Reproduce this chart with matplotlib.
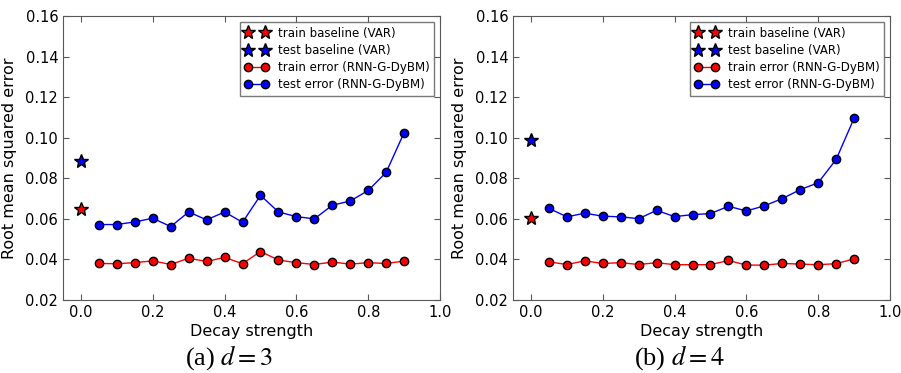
import matplotlib
matplotlib.use('Agg')
import matplotlib.pyplot as plt

decay = [0.05, 0.10, 0.15, 0.20, 0.25, 0.30, 0.35, 0.40, 0.45,
         0.50, 0.55, 0.60, 0.65, 0.70, 0.75, 0.80, 0.85, 0.90]

# d = 3
train_d3 = [0.0380, 0.0379, 0.0384, 0.0393, 0.0375, 0.0406, 0.0390, 0.0410, 0.0379,
            0.0439, 0.0397, 0.0384, 0.0375, 0.0387, 0.0377, 0.0384, 0.0380, 0.0392]
test_d3 = [0.0572, 0.0572, 0.0585, 0.0603, 0.0562, 0.0634, 0.0595, 0.0634, 0.0583,
           0.0716, 0.0634, 0.0611, 0.0600, 0.0667, 0.0688, 0.0740, 0.0829, 0.1025]
base_train_d3 = 0.0650
base_test_d3 = 0.0883

# d = 4
train_d4 = [0.0388, 0.0375, 0.0393, 0.0380, 0.0384, 0.0375, 0.0384, 0.0374, 0.0374,
            0.0374, 0.0395, 0.0372, 0.0372, 0.0380, 0.0377, 0.0374, 0.0379, 0.0403]
test_d4 = [0.0652, 0.0610, 0.0628, 0.0613, 0.0610, 0.0601, 0.0642, 0.0611, 0.0621,
           0.0626, 0.0662, 0.0639, 0.0664, 0.0700, 0.0744, 0.0778, 0.0893, 0.1096]
base_train_d4 = 0.0603
base_test_d4 = 0.0989

captions = ['(a) $d = 3$', '(b) $d = 4$']

plt.rcParams['mathtext.fontset'] = 'stix'
plt.rcParams['xtick.direction'] = 'in'
plt.rcParams['ytick.direction'] = 'in'

fig = plt.figure(figsize=(9.01, 3.73), dpi=100)
W, H = 901.0, 373.0


def panel(left, train, test, btrain, btest, caption):
    ax = fig.add_axes([left / W, 1 - 300 / H, 377 / W, 284 / H])
    ax.plot([0.0], [btrain], linestyle='none', marker='*', markersize=10,
            color='red', markeredgecolor='black', label='train baseline (VAR)')
    ax.plot([0.0], [btest], linestyle='none', marker='*', markersize=10,
            color='blue', markeredgecolor='black', label='test baseline (VAR)')
    ax.plot(decay, train, '-o', color='red', lw=1, markersize=6,
            markeredgecolor='black', label='train error (RNN-G-DyBM)')
    ax.plot(decay, test, '-o', color='blue', lw=1, markersize=6,
            markeredgecolor='black', label='test error (RNN-G-DyBM)')
    ax.set_xlim(-0.05, 1.0)
    ax.set_ylim(0.02, 0.16)
    ax.set_xticks([0.0, 0.2, 0.4, 0.6, 0.8, 1.0])
    ax.set_yticks([0.02, 0.04, 0.06, 0.08, 0.10, 0.12, 0.14, 0.16])
    ax.tick_params(top=True, right=True, labelsize=10.5, length=4, color='0.35')
    for s in ax.spines.values():
        s.set_color('0.35')
    ax.set_xlabel('Decay strength', fontsize=11.5, labelpad=3)
    ax.set_ylabel('Root mean squared error', fontsize=11.5, labelpad=6)
    leg = ax.legend(loc='upper right', numpoints=2, fontsize=8.5, fancybox=False,
                    borderaxespad=0.5, handlelength=2.0, labelspacing=0.35)
    leg.get_frame().set_edgecolor('0.35')
    fig.text((left + 377 / 2 - 22) / W, 1 - 358 / H, caption, ha='center', va='center',
             fontsize=19, family='Liberation Serif')
    return ax


panel(63, train_d3, test_d3, base_train_d3, base_test_d3, captions[0])
panel(513, train_d4, test_d4, base_train_d4, base_test_d4, captions[1])

fig.savefig('out.png', dpi=100)
